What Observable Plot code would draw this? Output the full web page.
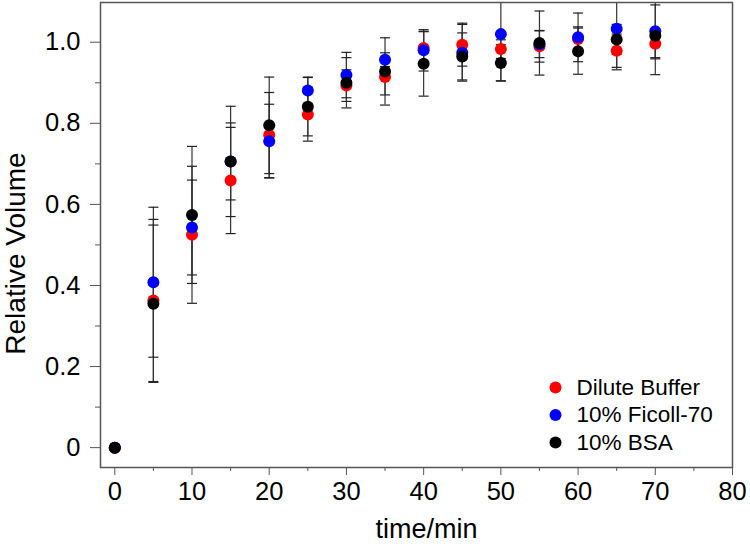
<!DOCTYPE html>
<html>
<head>
<meta charset="utf-8">
<script src="https://cdn.jsdelivr.net/npm/d3@7"></script>
<script src="https://cdn.jsdelivr.net/npm/@observablehq/plot@0.6"></script>
<style>
  body { margin: 0; background: #fff; }
  #chart { width: 750px; height: 544px; }
</style>
</head>
<body>
<div id="chart"></div>
<script>
// ---- data ----
const time = [0, 5, 10, 15, 20, 25, 30, 35, 40, 45, 50, 55, 60, 65, 70];

const bufferMean = [0, 0.363, 0.525, 0.659, 0.771, 0.822, 0.893, 0.914, 0.986, 0.994, 0.983, 0.990, 1.008, 0.979, 0.996];
const bufferErr  = [0, 0.200, 0.169, 0.131, 0.105, 0.066, 0.039, 0.044, 0.040, 0.053, 0.023, 0.039, 0.030, 0.041, 0.037];

const ficollMean = [0, 0.408, 0.543, 0.706, 0.756, 0.881, 0.919, 0.957, 0.980, 0.974, 1.020, 0.995, 1.012, 1.033, 1.027];
const ficollErr  = [0, 0.185, 0.117, 0.095, 0.091, 0.033, 0.056, 0.017, 0.051, 0.070, 0.115, 0.033, 0.060, 0.101, 0.065];

const bsaMean = [0, 0.355, 0.574, 0.706, 0.795, 0.841, 0.900, 0.928, 0.947, 0.965, 0.949, 0.998, 0.978, 1.007, 1.016];
const bsaErr  = [0, 0.194, 0.169, 0.136, 0.119, 0.072, 0.062, 0.083, 0.080, 0.058, 0.045, 0.079, 0.057, 0.037, 0.096];

const seriesNames = ["Dilute Buffer", "10% Ficoll-70", "10% BSA"];
const seriesColors = ["#ff0000", "#0000ff", "#000000"];

const xTicks = [0, 10, 20, 30, 40, 50, 60, 70, 80];
const xMinorTicks = [5, 15, 25, 35, 45, 55, 65, 75];
const yTicks = [0, 0.2, 0.4, 0.6, 0.8, 1.0];
const yMinorTicks = [0.1, 0.3, 0.5, 0.7, 0.9];

const xLabel = "time/min";
const yLabel = "Relative Volume";

// ---- build table ----
const means = [bufferMean, ficollMean, bsaMean];
const errs = [bufferErr, ficollErr, bsaErr];
const rows = [];
means.forEach((m, si) => time.forEach((t, i) => rows.push({series: seriesNames[si], t, v: m[i], e: errs[si][i]})));
const errRows = rows.filter(d => d.e > 0);
const capHalf = 0.65; // half-width of error caps, in minutes

const font = "'Liberation Sans', Arial, Helvetica, sans-serif";
const axisColor = "#555";
const barColor = "#333";

const legendDy = [-80, -52.5, -25];
const legendMarks = seriesNames.flatMap((name, i) => [
  Plot.dot([name], {frameAnchor: "bottom-right", dx: -177, dy: legendDy[i], r: 6, fill: seriesColors[i]}),
  Plot.text([name], {frameAnchor: "bottom-right", dx: -156, dy: legendDy[i], text: d => d, textAnchor: "start", lineAnchor: "middle", fontSize: 22.5, fill: "#000"})
]);

const chart = Plot.plot({
  width: 750,
  height: 544,
  marginLeft: 100,
  marginRight: 18,
  marginTop: 2,
  marginBottom: 77,
  style: {fontFamily: font, background: "#fff", color: "#000"},
  x: {domain: [-1.85, 80]},
  y: {domain: [-0.049, 1.098]},
  color: {domain: seriesNames, range: seriesColors},
  marks: [
    Plot.ruleX(errRows, {x: "t", y1: d => d.v - d.e, y2: d => d.v + d.e, stroke: barColor, strokeWidth: 1.2, clip: true}),
    Plot.link(errRows, {x1: d => d.t - capHalf, x2: d => d.t + capHalf, y1: d => d.v + d.e, y2: d => d.v + d.e, stroke: "#222", strokeWidth: 1.2, clip: true}),
    Plot.link(errRows, {x1: d => d.t - capHalf, x2: d => d.t + capHalf, y1: d => d.v - d.e, y2: d => d.v - d.e, stroke: "#222", strokeWidth: 1.2, clip: true}),
    Plot.dot(rows, {x: "t", y: "v", fill: "series", r: 6}),
    Plot.frame({stroke: axisColor, strokeWidth: 1.5}),
    Plot.axisX({ticks: xTicks, tickSize: 8, tickPadding: 6, fontSize: 25.5, stroke: axisColor, label: null}),
    Plot.axisX({ticks: xMinorTicks, tickSize: 4, tickFormat: () => "", stroke: axisColor, label: null}),
    Plot.axisY({ticks: yTicks, tickSize: 10, tickPadding: 10, fontSize: 25.5, stroke: axisColor, label: null,
      tickFormat: d => d === 0 ? "0" : d.toFixed(1)}),
    Plot.axisY({ticks: yMinorTicks, tickSize: 5, tickFormat: () => "", stroke: axisColor, label: null}),
    Plot.text([xLabel], {frameAnchor: "bottom", dx: 10, dy: 62, text: d => d, textAnchor: "middle", lineAnchor: "middle", fontSize: 27, fill: "#000"}),
    Plot.text([yLabel], {frameAnchor: "left", dx: -84, dy: 18.5, rotate: -90, text: d => d, textAnchor: "middle", lineAnchor: "middle", fontSize: 28, fill: "#000"}),
    ...legendMarks
  ]
});
document.getElementById("chart").appendChild(chart);
</script>
</body>
</html>
